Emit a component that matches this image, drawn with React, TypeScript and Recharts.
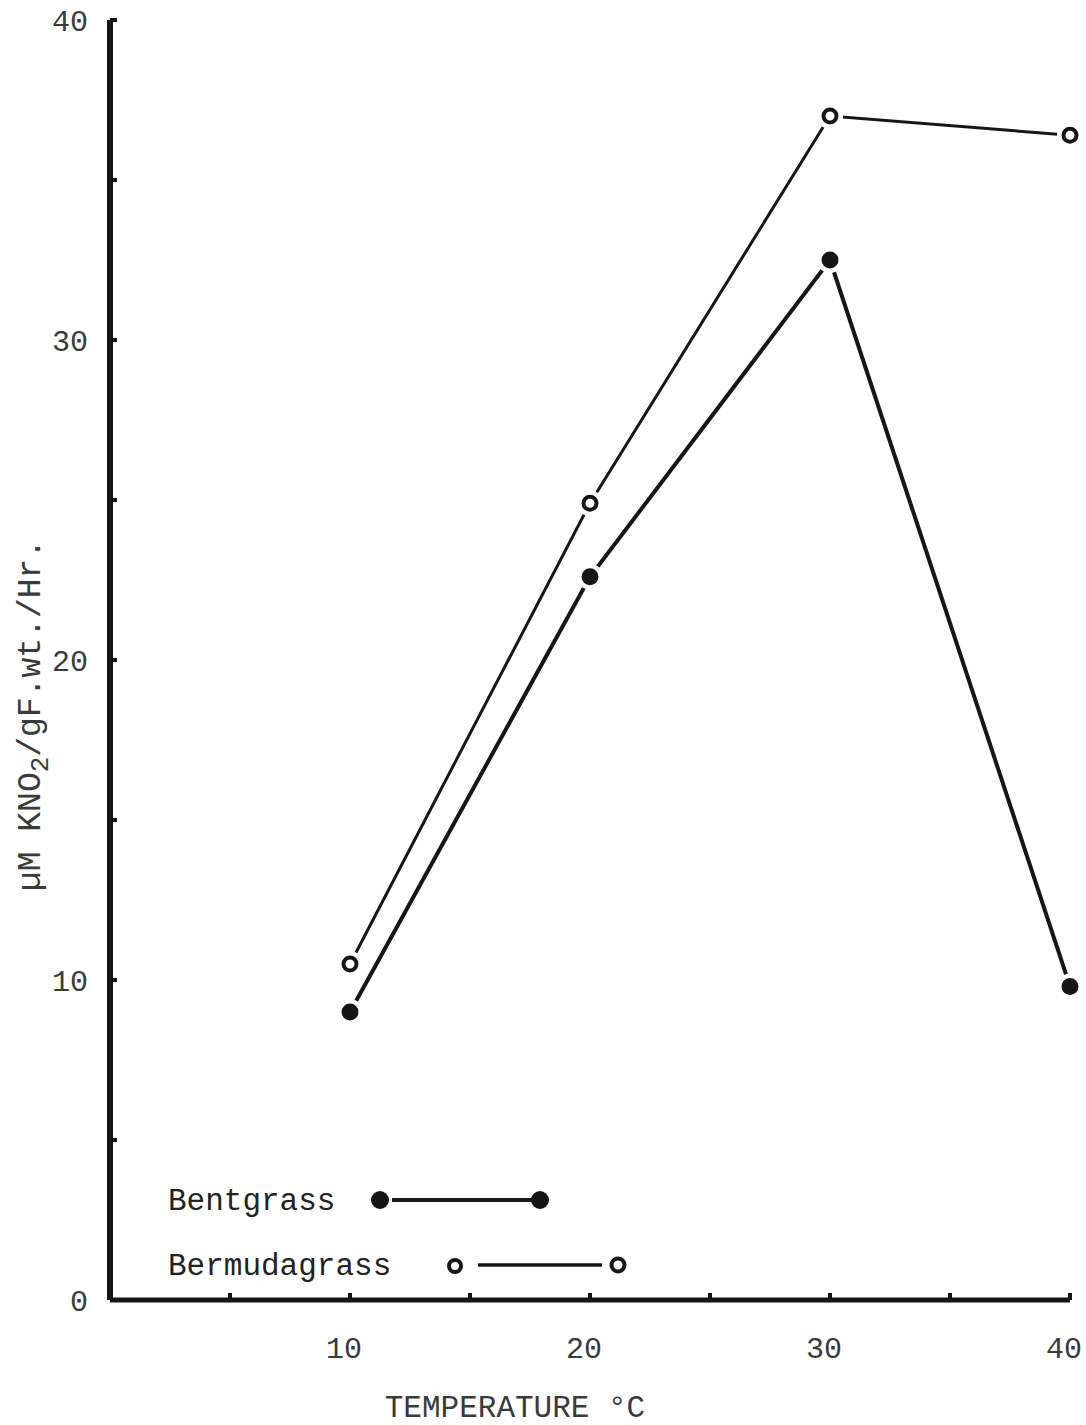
import React from "react";
import { LineChart, Line, XAxis, YAxis } from "recharts";

const temps = [10, 20, 30, 40];
const bentgrass = [9.0, 22.6, 32.5, 9.8];
const bermudagrass = [10.5, 24.9, 37.0, 36.4];
const xTicks = [5, 10, 15, 20, 25, 30, 35, 40];
const yTicks = [0, 5, 10, 15, 20, 25, 30, 35, 40];
const xLabels = [10, 20, 30, 40];
const yLabels = [0, 10, 20, 30, 40];
const seriesNames = ["Bentgrass", "Bermudagrass"];

const data = temps.map((t, i) => ({ t, bent: bentgrass[i], berm: bermudagrass[i] }));

const FONT = "'Liberation Mono', 'DejaVu Sans Mono', monospace";
const INK = "#161616";
const TEXT = "#3a3a3a";

const FilledDot = (props: any) => {
  const { cx, cy } = props;
  if (cx == null || cy == null) return null;
  return (
    <g>
      <circle cx={cx} cy={cy} r={13} fill="#ffffff" />
      <circle cx={cx} cy={cy} r={8.5} fill={INK} />
    </g>
  );
};

const OpenDot = (props: any) => {
  const { cx, cy } = props;
  if (cx == null || cy == null) return null;
  return (
    <g>
      <circle cx={cx} cy={cy} r={13} fill="#ffffff" />
      <circle cx={cx} cy={cy} r={6.5} fill="#ffffff" stroke={INK} strokeWidth={4} />
    </g>
  );
};

const XTick = (props: any) => {
  const { x, y, payload } = props;
  const v = payload.value;
  return (
    <g>
      <line x1={x} y1={y} x2={x} y2={y - 7} stroke={INK} strokeWidth={4} />
      {xLabels.includes(v) && (
        <text x={x - 6} y={y + 58} textAnchor="middle" fontFamily={FONT} fontSize={30} fill={TEXT}>
          {v}
        </text>
      )}
    </g>
  );
};

const YTick = (props: any) => {
  const { x, y, payload } = props;
  const v = payload.value;
  return (
    <g>
      {v !== 0 && <line x1={x} y1={y} x2={x + 7} y2={y} stroke={INK} strokeWidth={4} />}
      {yLabels.includes(v) && (
        <text x={x - 22} y={y} dy="0.36em" textAnchor="end" fontFamily={FONT} fontSize={30} fill={TEXT}>
          {v}
        </text>
      )}
    </g>
  );
};

const YTitle = (props: any) => {
  const vb = props.viewBox || {};
  const cx = (vb.x ?? 50) - 19;
  const cy = (vb.y ?? 20) + (vb.height ?? 1280) / 2 + 55;
  return (
    <text
      x={cx}
      y={cy}
      transform={`rotate(-90, ${cx}, ${cy})`}
      textAnchor="middle"
      dominantBaseline="central"
      fontFamily={FONT}
      fontSize={33}
      fill={TEXT}
    >
      µM KNO
      <tspan dy={10} fontSize={26}>2</tspan>
      <tspan dy={-10}>/gF.wt./Hr.</tspan>
    </text>
  );
};

const XTitle = (props: any) => {
  const vb = props.viewBox || {};
  const cx = (vb.x ?? 110) + (vb.width ?? 960) / 2 - 75;
  const cy = (vb.y ?? 1300) + 117;
  return (
    <text x={cx} y={cy} textAnchor="middle" fontFamily={FONT} fontSize={31} fill={TEXT}>
      TEMPERATURE °C
    </text>
  );
};

const LegendBox = () => (
  <svg
    width={500}
    height={130}
    style={{ position: "absolute", left: 160, top: 1170, display: "block", overflow: "visible" }}
  >
    <text x={8} y={40} fontFamily={FONT} fontSize={31} fill="#222">{seriesNames[0]}</text>
    <line x1={232} y1={30} x2={372} y2={30} stroke={INK} strokeWidth={4} />
    <circle cx={220} cy={30} r={9} fill={INK} />
    <circle cx={380} cy={30} r={9} fill={INK} />
    <text x={8} y={105} fontFamily={FONT} fontSize={31} fill="#222">{seriesNames[1]}</text>
    <line x1={318} y1={95} x2={442} y2={95} stroke={INK} strokeWidth={3.5} />
    <circle cx={295} cy={96} r={6} fill="#fff" stroke={INK} strokeWidth={4} />
    <circle cx={458} cy={95} r={6.5} fill="#fff" stroke={INK} strokeWidth={4} />
  </svg>
);

export default function App() {
  return (
    <div style={{ position: "absolute", left: 0, top: 0, width: 1086, height: 1425, background: "#fff" }}>
      <LineChart
        width={1086}
        height={1425}
        data={data}
        margin={{ top: 20, right: 16, left: 50, bottom: 95 }}
      >
        <XAxis
          dataKey="t"
          type="number"
          domain={[0, 40]}
          ticks={xTicks}
          interval={0}
          height={30}
          tickSize={0}
          tickMargin={0}
          tickLine={false}
          axisLine={{ stroke: INK, strokeWidth: 5 }}
          tick={<XTick />}
          label={<XTitle />}
        />
        <YAxis
          type="number"
          domain={[0, 40]}
          ticks={yTicks}
          interval={0}
          width={60}
          tickSize={0}
          tickMargin={0}
          tickLine={false}
          axisLine={{ stroke: INK, strokeWidth: 6 }}
          tick={<YTick />}
          label={<YTitle />}
        />
        <Line
          name={seriesNames[0]}
          dataKey="bent"
          stroke={INK}
          strokeWidth={4}
          dot={<FilledDot />}
          activeDot={false}
          isAnimationActive={false}
        />
        <Line
          name={seriesNames[1]}
          dataKey="berm"
          stroke={INK}
          strokeWidth={3}
          dot={<OpenDot />}
          activeDot={false}
          isAnimationActive={false}
        />
      </LineChart>
      <LegendBox />
    </div>
  );
}
